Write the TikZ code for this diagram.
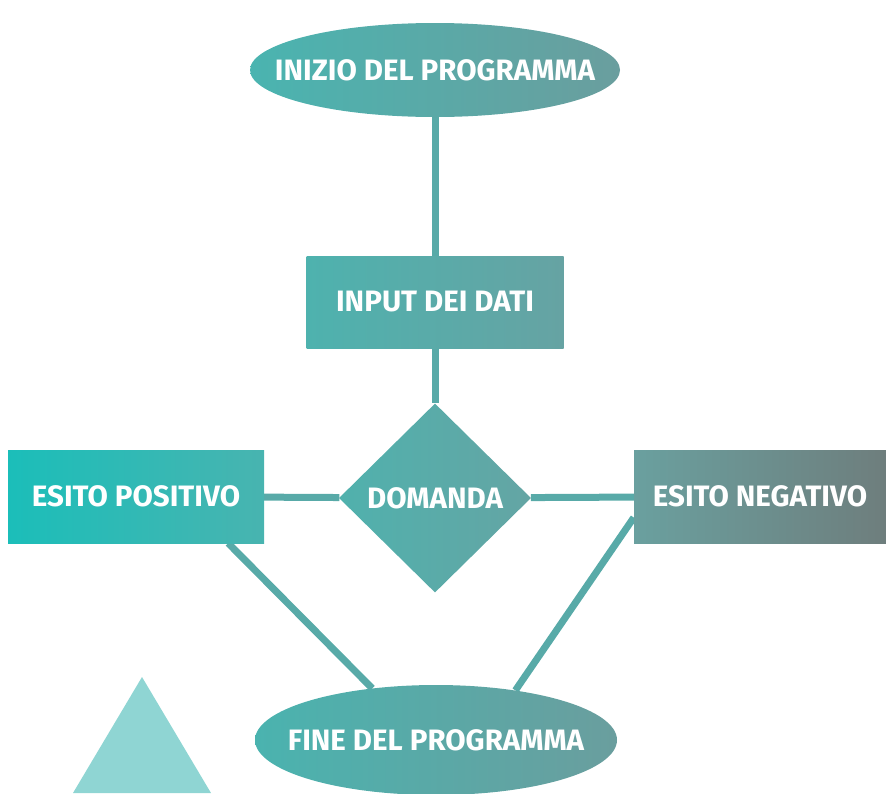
\documentclass[tikz,border=0pt]{standalone}
\usepackage{fontspec}
\setmainfont{Fira Sans}
\usetikzlibrary{shapes.geometric,backgrounds}

% colours
\definecolor{linkcol}{RGB}{88,170,168}
\definecolor{trianglecol}{RGB}{143,213,211}

\tikzset{
  boxtext/.style={text=white, font=\bfseries\fontsize{29.5}{32}\selectfont, inner sep=0pt},
  termbox/.style={boxtext, ellipse, inner xsep=-40pt},
  stepbox/.style={boxtext, rectangle, minimum width=257pt, minimum height=92pt},
  askbox/.style={boxtext, diamond, aspect=1, minimum width=192pt, minimum height=189pt},
  link/.style={draw=linkcol, line width=7pt}
}

\begin{document}
\begin{tikzpicture}[x=1pt, y=-1pt]
    \useasboundingbox (0,0) rectangle (886,793);

    % Start and end of the programme
    \node[termbox, minimum width=370pt, minimum height=94pt,
          left color={rgb,255:red,74;green,180;blue,176},
          right color={rgb,255:red,106;green,158;blue,158}]
          (start) at (435,70) {INIZIO DEL PROGRAMMA};
    \node[termbox, minimum width=362pt, minimum height=110pt,
          left color={rgb,255:red,74;green,179;blue,175},
          right color={rgb,255:red,106;green,158;blue,158}]
          (stop) at (436,740) {FINE DEL PROGRAMMA};

    % Input and question
    \node[stepbox,
          left color={rgb,255:red,78;green,178;blue,174},
          right color={rgb,255:red,102;green,163;blue,163}]
          (input) at (435,302) {INPUT DEI DATI};
    \node[askbox,
          left color={rgb,255:red,80;green,177;blue,173},
          right color={rgb,255:red,100;green,165;blue,164}]
          (ask) at (435,498) {DOMANDA};

    % The two outcomes
    \node[stepbox, minimum width=256pt, minimum height=93pt,
          left color={rgb,255:red,27;green,190;blue,185},
          right color={rgb,255:red,72;green,180;blue,176}]
          (yes) at (136,496.5) {ESITO POSITIVO};
    \node[stepbox, minimum width=252pt, minimum height=93pt,
          left color={rgb,255:red,106;green,160;blue,159},
          right color={rgb,255:red,110;green,126;blue,125}]
          (no) at (760,496.5) {ESITO NEGATIVO};

    % Connectors, kept behind the shapes
    \begin{scope}[on background layer]
        \draw[link] (start) -- (input);
        \draw[link] (input) -- (ask);
        \draw[link] (yes) -- (ask);
        \draw[link] (ask) -- (no);
        \draw[link] ([xshift=-36pt]yes.south east) -- (stop.141);
        \draw[link] ([yshift=-21pt]no.west) -- (stop.32);
    \end{scope}

    % Decorative triangle
    \fill[trianglecol] (142,677) -- (211,793) -- (73,793) -- cycle;
\end{tikzpicture}
\end{document}
